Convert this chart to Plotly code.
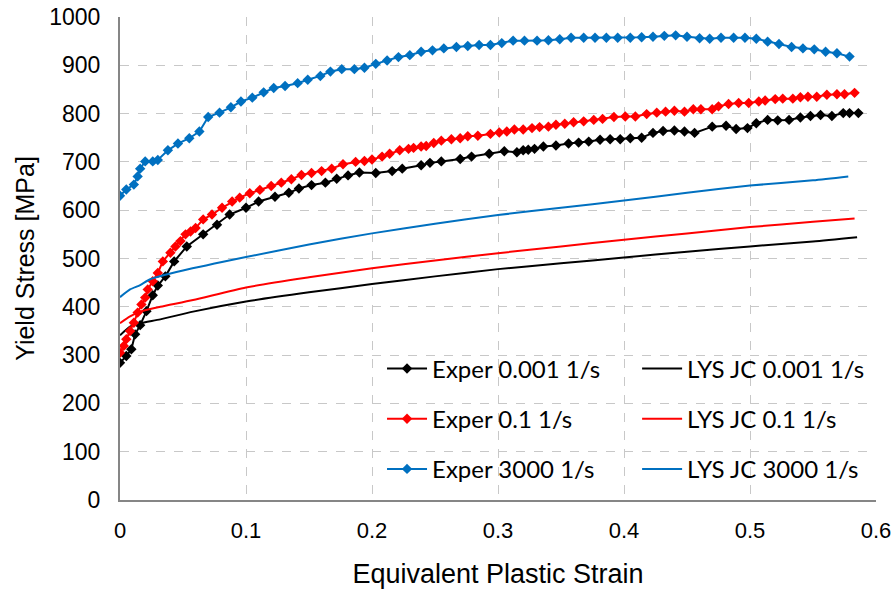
import plotly.graph_objects as go

# ---- Data ----
exp_001_x = [0.000,0.005,0.009,0.012,0.016,0.021,0.026,0.030,0.036,0.043,0.053,0.066,0.077,0.087,0.100,0.110,0.123,0.134,0.142,0.152,0.163,0.172,0.181,0.190,0.203,0.216,0.224,0.239,0.246,0.255,0.270,0.279,0.293,0.305,0.315,0.320,0.324,0.329,0.336,0.346,0.356,0.364,0.372,0.381,0.389,0.397,0.405,0.414,0.423,0.431,0.440,0.448,0.456,0.470,0.481,0.489,0.498,0.505,0.514,0.522,0.531,0.540,0.548,0.556,0.565,0.574,0.579,0.586]
exp_001_y = [284,298,312,343,362,391,424,444,463,494,525,550,570,591,605,618,628,636,645,652,657,665,672,678,677,681,686,693,698,701,706,711,717,722,720,724,725,727,732,734,738,740,742,746,747,747,749,750,760,764,765,763,760,773,775,768,770,780,787,786,787,792,795,797,795,801,801,801]

exp_01_x = [0.000,0.003,0.005,0.008,0.011,0.014,0.017,0.020,0.022,0.026,0.030,0.034,0.040,0.044,0.048,0.052,0.056,0.060,0.066,0.073,0.081,0.089,0.095,0.103,0.111,0.120,0.128,0.136,0.144,0.152,0.160,0.168,0.177,0.187,0.194,0.200,0.208,0.214,0.222,0.229,0.233,0.239,0.243,0.249,0.255,0.263,0.270,0.276,0.284,0.294,0.301,0.307,0.313,0.320,0.327,0.333,0.340,0.346,0.353,0.360,0.368,0.376,0.383,0.392,0.401,0.409,0.418,0.426,0.433,0.440,0.448,0.455,0.461,0.470,0.475,0.483,0.491,0.499,0.507,0.512,0.520,0.526,0.534,0.540,0.546,0.553,0.561,0.569,0.575,0.583]
exp_01_y = [305,319,333,350,367,388,405,419,436,453,470,494,512,525,536,550,556,563,581,591,605,618,626,635,642,650,657,664,673,677,681,686,695,700,702,705,711,717,724,727,729,732,733,739,744,747,749,753,754,758,761,763,767,767,770,772,773,777,779,782,784,787,789,793,794,794,799,802,804,806,804,809,809,809,815,820,822,822,825,827,830,831,831,834,835,835,839,840,840,843]

exp_3000_x = [0.000,0.005,0.011,0.014,0.016,0.020,0.026,0.030,0.038,0.046,0.055,0.063,0.070,0.079,0.088,0.096,0.105,0.114,0.122,0.131,0.141,0.149,0.159,0.167,0.176,0.186,0.194,0.203,0.212,0.221,0.230,0.239,0.248,0.257,0.267,0.276,0.285,0.294,0.303,0.312,0.321,0.331,0.340,0.349,0.358,0.368,0.377,0.386,0.395,0.405,0.414,0.423,0.432,0.441,0.450,0.460,0.468,0.477,0.487,0.496,0.505,0.514,0.523,0.533,0.542,0.551,0.560,0.569,0.579]
exp_3000_y = [630,643,653,670,686,701,701,704,724,738,749,763,793,802,813,825,833,844,853,857,863,870,878,887,892,892,895,903,910,917,921,928,931,935,938,940,942,942,946,951,951,951,952,954,957,957,957,957,957,957,958,959,961,962,959,956,955,957,957,957,955,949,944,938,935,933,928,925,918]

jc_001_x = [0,0.008,0.016,0.032,0.058,0.1,0.15,0.2,0.25,0.3,0.35,0.4,0.45,0.5,0.55,0.585]
jc_001_y = [341,359,366,374,390,411,430,447,463,478,490,502,514,525,535,544]
jc_01_x = [0,0.008,0.016,0.032,0.058,0.1,0.15,0.2,0.25,0.3,0.35,0.4,0.45,0.5,0.55,0.583]
jc_01_y = [366,380,390,400,414,440,461,480,496,511,525,539,552,565,576,583]
jc_3000_x = [0,0.008,0.016,0.024,0.05,0.1,0.15,0.2,0.25,0.3,0.35,0.4,0.45,0.5,0.55,0.578]
jc_3000_y = [420,436,445,457,475,503,529,552,572,590,605,620,636,651,662,670]

x_ticks = [0, 0.1, 0.2, 0.3, 0.4, 0.5, 0.6]
x_tick_labels = ["0", "0.1", "0.2", "0.3", "0.4", "0.5", "0.6"]
y_ticks = [0, 100, 200, 300, 400, 500, 600, 700, 800, 900, 1000]

BLACK = "#000000"
RED = "#FF0000"
BLUE = "#0070C0"

fig = go.Figure()

def exper(x, y, name, color, grp):
    fig.add_trace(go.Scatter(x=x, y=y, name=name, mode="lines+markers",
                             legend="legend", legendgroup=grp,
                             line=dict(color=color, width=2),
                             marker=dict(symbol="diamond", size=8, color=color)))

def jc(x, y, name, color, grp):
    fig.add_trace(go.Scatter(x=x, y=y, name=name, mode="lines",
                             legend="legend2", legendgroup=grp,
                             line=dict(color=color, width=2, shape="spline", smoothing=0.6)))

exper(exp_001_x, exp_001_y, "Exper 0.001 1/s", BLACK, "e1")
jc(jc_001_x, jc_001_y, "LYS JC 0.001 1/s", BLACK, "j1")
exper(exp_01_x, exp_01_y, "Exper 0.1 1/s", RED, "e2")
jc(jc_01_x, jc_01_y, "LYS JC 0.1 1/s", RED, "j2")
exper(exp_3000_x, exp_3000_y, "Exper 3000 1/s", BLUE, "e3")
jc(jc_3000_x, jc_3000_y, "LYS JC 3000 1/s", BLUE, "j3")

legend_common = dict(orientation="v", yanchor="top", xanchor="left",
                     traceorder="grouped", tracegroupgap=16,
                     font=dict(family="Lato, Carlito, Calibri, sans-serif", size=24),
                     bgcolor="rgba(0,0,0,0)", borderwidth=0, itemwidth=40)

fig.update_layout(
    width=896, height=591,
    margin=dict(l=120, r=20, t=17, b=91, autoexpand=False),
    paper_bgcolor="white", plot_bgcolor="white",
    font=dict(family="Liberation Sans, Arial, sans-serif", color="#000000"),
    showlegend=True,
    legend=dict(x=0.3466, y=0.318, **legend_common),
    legend2=dict(x=0.684, y=0.318, **legend_common),
    xaxis=dict(range=[0, 0.6], tickvals=x_ticks, ticktext=x_tick_labels,
               showgrid=True, gridcolor="#C8C8C8", griddash="dash", gridwidth=1,
               showline=True, linecolor="#868686", linewidth=2,
               zeroline=False, ticks="", tickfont=dict(size=22),
               ticklabelstandoff=10, automargin=False,
               title=dict(text="Equivalent Plastic Strain", font=dict(size=27), standoff=22)),
    yaxis=dict(range=[0, 1000], tickvals=y_ticks,
               showgrid=True, gridcolor="#C8C8C8", griddash="dash", gridwidth=1,
               showline=True, linecolor="#868686", linewidth=2,
               zeroline=False, ticks="", tickfont=dict(size=23),
               ticklabelstandoff=13, automargin=False,
               title=dict(text="Yield Stress [MPa]", font=dict(size=25), standoff=7)),
)

# Remove the browser's default 8px body margin so the figure fills the window exactly.
fig.write_html("out.html",
               config={"displayModeBar": False},
               post_script="document.body.style.margin='0';document.body.style.overflow='hidden';")
